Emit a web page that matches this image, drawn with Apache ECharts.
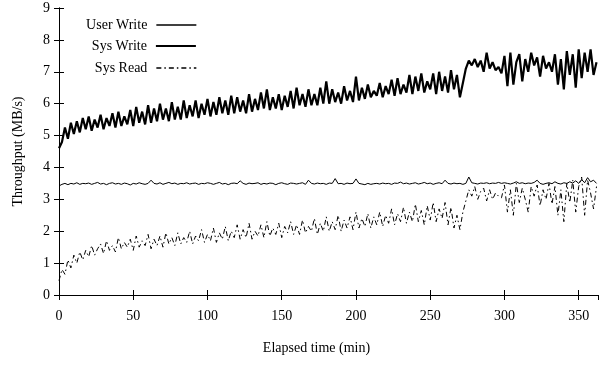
<!DOCTYPE html>
<html>
<head>
<meta charset="utf-8">
<script src="https://cdn.jsdelivr.net/npm/echarts@6/dist/echarts.min.js"></script>
<style>
html,body{margin:0;padding:0;background:#fff;}
#chart{width:602px;height:366px;}
</style>
</head>
<body>
<div id="chart"></div>
<script>
const timeMin = [
0,2,4,6,8,10,12,14,16,18,
20,22,24,26,28,30,32,34,36,38,
40,42,44,46,48,50,52,54,56,58,
60,62,64,66,68,70,72,74,76,78,
80,82,84,86,88,90,92,94,96,98,
100,102,104,106,108,110,112,114,116,118,
120,122,124,126,128,130,132,134,136,138,
140,142,144,146,148,150,152,154,156,158,
160,162,164,166,168,170,172,174,176,178,
180,182,184,186,188,190,192,194,196,198,
200,202,204,206,208,210,212,214,216,218,
220,222,224,226,228,230,232,234,236,238,
240,242,244,246,248,250,252,254,256,258,
260,262,264,266,268,270,272,274,276,278,
280,282,284,286,288,290,292,294,296,298,
300,302,304,306,308,310,312,314,316,318,
320,322,324,326,328,330,332,334,336,338,
340,342,344,346,348,350,352,354,356,358,
360,362
];

const userWrite = [
3.42,3.47,3.5,3.46,3.5,3.48,3.52,3.47,3.5,3.49,
3.51,3.47,3.5,3.53,3.48,3.5,3.46,3.5,3.52,3.48,
3.5,3.47,3.51,3.49,3.45,3.5,3.48,3.52,3.49,3.47,
3.5,3.6,3.5,3.48,3.52,3.47,3.5,3.53,3.49,3.51,
3.47,3.5,3.49,3.52,3.48,3.5,3.51,3.47,3.5,3.49,
3.52,3.5,3.47,3.5,3.53,3.48,3.5,3.46,3.5,3.51,
3.49,3.58,3.5,3.47,3.51,3.49,3.5,3.52,3.47,3.5,
3.48,3.51,3.5,3.46,3.5,3.52,3.49,3.47,3.51,3.5,
3.48,3.5,3.52,3.47,3.6,3.5,3.48,3.51,3.49,3.5,
3.47,3.51,3.5,3.65,3.49,3.5,3.47,3.51,3.49,3.5,
3.64,3.5,3.48,3.46,3.5,3.47,3.49,3.5,3.48,3.51,
3.49,3.5,3.47,3.51,3.5,3.54,3.49,3.51,3.48,3.5,
3.52,3.48,3.5,3.53,3.49,3.51,3.47,3.5,3.52,3.49,
3.6,3.5,3.48,3.51,3.49,3.5,3.47,3.5,3.7,3.52,
3.5,3.48,3.51,3.5,3.52,3.49,3.51,3.5,3.53,3.5,
3.52,3.5,3.48,3.51,3.55,3.5,3.52,3.49,3.51,3.5,
3.53,3.6,3.5,3.47,3.5,3.52,3.49,3.55,3.5,3.48,
3.52,3.5,3.55,3.51,3.58,3.5,3.62,3.52,3.68,3.55,
3.6,3.5
];

const sysWrite = [
4.6,4.8,5.25,4.9,5.4,5.05,5.45,5.1,5.55,5.2,
5.6,5.15,5.5,5.25,5.65,5.2,5.55,5.3,5.7,5.25,
5.75,5.3,5.6,5.35,5.8,5.3,5.9,5.4,5.75,5.35,
5.95,5.4,5.85,5.45,6.0,5.5,5.85,5.45,6.05,5.5,
5.9,5.5,6.1,5.55,5.95,5.6,6.1,5.55,6.0,5.65,
6.15,5.6,6.05,5.65,6.2,5.7,6.1,5.65,6.25,5.7,
6.2,5.75,6.1,5.7,6.3,5.75,6.15,5.8,6.35,5.85,
6.45,5.8,6.2,5.85,6.3,5.8,6.25,5.9,6.4,5.85,
6.5,5.95,6.3,5.9,6.45,5.95,6.3,5.95,6.5,6.0,
6.7,6.0,6.45,6.05,6.35,6.0,6.55,6.1,6.4,6.05,
6.85,6.1,6.5,6.15,6.6,6.2,6.4,6.25,6.65,6.2,
6.55,6.3,6.75,6.25,6.8,6.3,6.6,6.35,6.9,6.3,
6.85,6.4,6.95,6.35,6.7,6.45,6.95,6.3,7.0,6.4,
6.85,6.35,7.05,6.45,6.9,6.2,6.65,7.1,7.35,7.2,
7.4,7.15,7.35,7.0,7.6,7.1,7.3,7.05,7.15,6.95,
7.5,6.55,7.6,6.6,7.3,7.55,6.7,7.4,7.0,7.6,
7.2,7.45,6.85,7.5,7.1,7.3,7.0,7.55,6.6,7.4,
6.45,7.65,6.9,7.55,6.5,7.7,6.8,7.6,7.0,7.7,
6.9,7.3
];

const sysRead = [
0.45,0.8,0.65,1.1,0.85,1.25,1.0,1.35,1.1,1.4,
1.2,1.55,1.25,1.45,1.6,1.3,1.7,1.4,1.55,1.35,
1.8,1.45,1.65,1.5,1.75,1.4,1.85,1.5,1.7,1.55,
1.9,1.45,1.75,1.55,1.85,1.5,1.95,1.6,1.8,1.55,
1.95,1.6,1.8,1.65,2.0,1.6,1.85,1.7,2.05,1.65,
1.9,1.7,2.1,1.65,1.95,1.75,2.15,1.7,2.0,1.8,
2.2,1.75,2.05,1.8,2.25,1.75,2.0,1.85,2.2,1.8,
2.3,1.85,2.1,1.9,2.25,1.8,2.15,1.95,2.3,1.9,
2.2,1.9,2.35,1.95,2.15,2.0,2.4,1.9,2.25,2.0,
2.45,2.0,2.3,2.05,2.5,2.0,2.35,2.1,2.45,2.05,
2.6,2.1,2.4,2.15,2.55,2.1,2.45,2.2,2.6,2.15,
2.5,2.25,2.7,2.2,2.55,2.3,2.75,2.25,2.6,2.3,
2.85,2.3,2.65,2.2,2.8,2.35,2.9,2.3,2.7,2.4,
2.9,2.2,2.75,2.1,2.5,2.05,2.6,2.95,3.3,3.1,
3.4,3.0,3.25,3.35,2.95,3.3,3.0,3.2,3.1,3.05,
3.45,2.6,3.3,2.5,3.5,2.9,3.35,3.0,2.6,3.4,
3.1,3.45,2.8,3.3,3.0,3.5,2.85,3.4,2.5,3.3,
2.3,3.5,2.9,3.6,2.6,3.4,3.7,2.5,3.6,3.2,
2.7,3.4
];

const seriesNames = ['User Write', 'Sys Write', 'Sys Read'];
const xTitle = 'Elapsed time (min)';
const yTitle = 'Throughput (MB/s)';

const FONT = "'Liberation Serif', 'Times New Roman', serif";
const pair = arr => arr.map((v, i) => [timeMin[i], v]);
const lineStyles = [
  {color: '#000', width: 1, type: 'solid'},
  {color: '#000', width: 2.2, type: 'solid'},
  {color: '#000', width: 1, type: [5, 3, 1.5, 3]}
];
const legendLineStyles = [
  {color: '#000', width: 1.3, type: 'solid'},
  {color: '#000', width: 2.2, type: 'solid'},
  {color: '#000', width: 1.3, type: [5, 3, 1.5, 3]}
];

const chart = echarts.init(document.getElementById('chart'), null, {renderer: 'canvas'});

const baseX = {
  type: 'value', min: 0, max: 363, interval: 50,
  axisLine: {show: true, lineStyle: {color: '#000', width: 1}},
  axisTick: {show: true, inside: true, length: 5, lineStyle: {color: '#000'}},
  splitLine: {show: false}
};
const baseY = {
  type: 'value', min: 0, max: 9, interval: 1,
  axisLine: {show: true, lineStyle: {color: '#000', width: 1}},
  axisTick: {show: true, inside: true, length: 5, lineStyle: {color: '#000'}},
  splitLine: {show: false}
};

function legendFor(i, top) {
  return {
    data: [seriesNames[i]], right: 405, top: top, orient: 'vertical', align: 'right',
    itemWidth: 40, itemHeight: 12, padding: 0,
    itemStyle: {opacity: 0, borderWidth: 0},
    lineStyle: Object.assign({}, legendLineStyles[i]),
    textStyle: {fontFamily: FONT, fontSize: 14, color: '#000', padding: [0, 4, 0, 0]}
  };
}

chart.setOption({
  animation: false,
  backgroundColor: '#fff',
  grid: {left: 59, right: 4, top: 8, bottom: 71, containLabel: false},
  legend: [legendFor(0, 18), legendFor(1, 39), legendFor(2, 61)],
  xAxis: [
    Object.assign({}, baseX, {
      position: 'bottom',
      axisLabel: {fontFamily: FONT, fontSize: 14, color: '#000', margin: 14, showMaxLabel: false},
      name: xTitle, nameLocation: 'middle', nameGap: 46,
      nameTextStyle: {fontFamily: FONT, fontSize: 14, color: '#000', padding: [0, 24, 0, 0]}
    }),
    Object.assign({}, baseX, {position: 'top', axisLabel: {show: false}})
  ],
  yAxis: [
    Object.assign({}, baseY, {
      position: 'left',
      axisLabel: {fontFamily: FONT, fontSize: 14, color: '#000', margin: 9},
      name: yTitle, nameLocation: 'middle', nameGap: 34,
      nameTextStyle: {fontFamily: FONT, fontSize: 14, color: '#000'}
    }),
    Object.assign({}, baseY, {position: 'right', axisLabel: {show: false}})
  ],
  series: [
    {name: seriesNames[0], type: 'line', data: pair(userWrite), showSymbol: false, symbol: 'none',
     lineStyle: lineStyles[0], itemStyle: {color: '#000'}},
    {name: seriesNames[1], type: 'line', data: pair(sysWrite), showSymbol: false, symbol: 'none',
     lineStyle: lineStyles[1], itemStyle: {color: '#000'}},
    {name: seriesNames[2], type: 'line', data: pair(sysRead), showSymbol: false, symbol: 'none',
     lineStyle: lineStyles[2], itemStyle: {color: '#000'}}
  ]
});
</script>
</body>
</html>
